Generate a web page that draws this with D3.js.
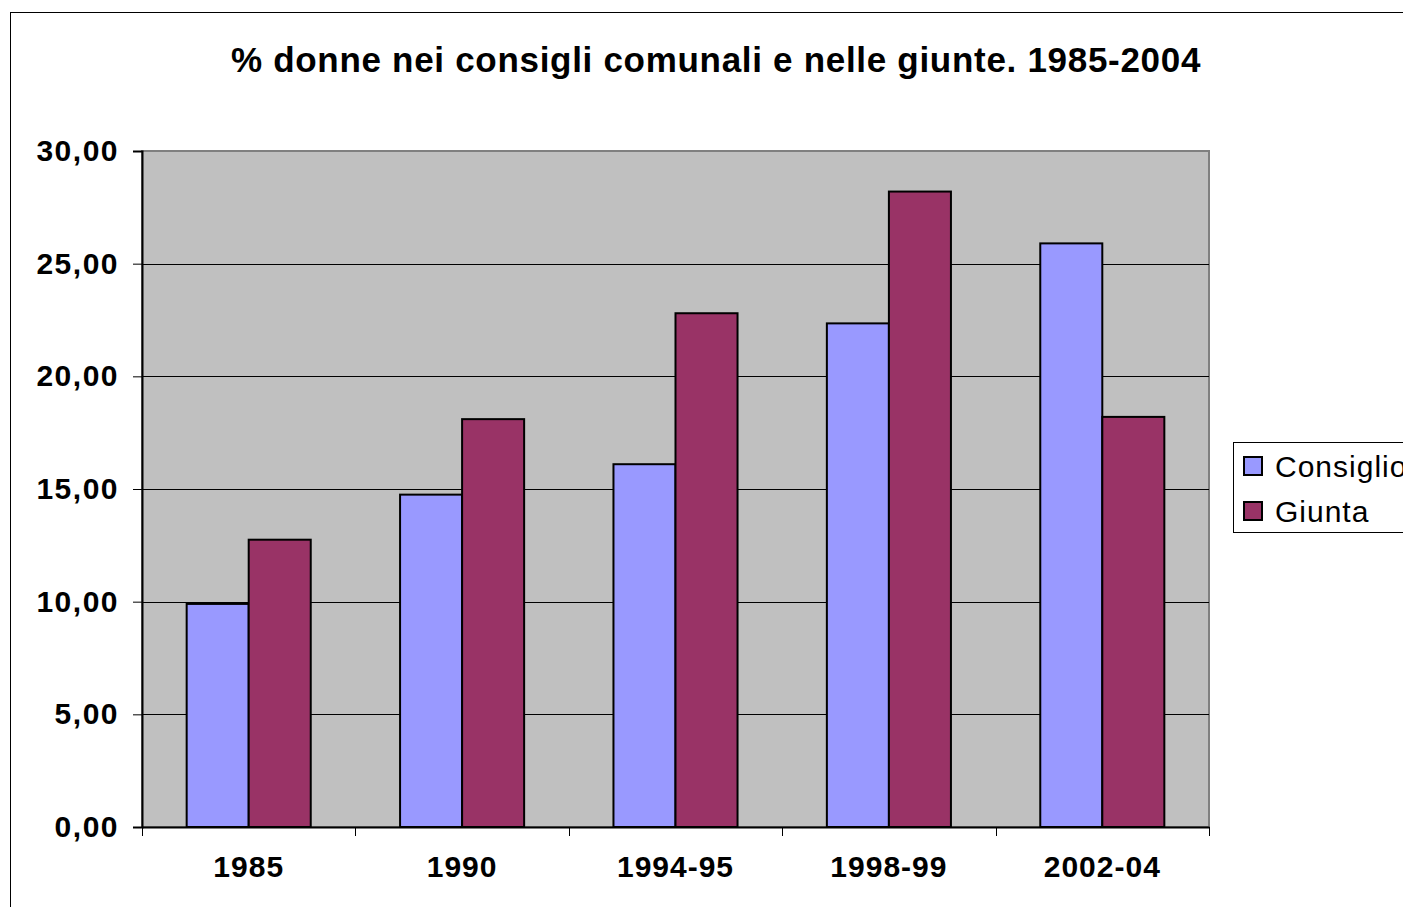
<!DOCTYPE html>
<html>
<head>
<meta charset="utf-8">
<script src="https://cdn.jsdelivr.net/npm/d3@7"></script>
<style>
  body { margin: 0; background: #fff; }
  svg { display: block; font-family: "Liberation Sans", Arial, sans-serif; }
</style>
</head>
<body>
<svg id="chart" width="1403" height="907"></svg>
<script>
// data
const categories = ["1985", "1990", "1994-95", "1998-99", "2002-04"];
const seriesNames = ["Consiglio", "Giunta"];
const consiglio = [9.9, 14.75, 16.1, 22.35, 25.9];
const giunta = [12.75, 18.1, 22.8, 28.2, 18.2];
const yTicks = [0, 5, 10, 15, 20, 25, 30];
const colors = ["#9999FF", "#993366"];

const values = [consiglio, giunta];
const svg = d3.select("#chart");

// chart frame (runs off the right/bottom edge like the original)
svg.append("rect")
  .attr("x", 10.5).attr("y", 12.5)
  .attr("width", 1500).attr("height", 1000)
  .attr("fill", "#fff").attr("stroke", "#000").attr("stroke-width", 1);

const plot = { left: 142, right: 1209, top: 151, bottom: 827 };

const y = d3.scaleLinear().domain([0, 30]).range([plot.bottom, plot.top]);
const x0 = d3.scaleBand().domain(categories).range([plot.left, plot.right]);
const x1 = d3.scaleBand().domain(seriesNames)
  .range([0, x0.bandwidth()]).paddingInner(0).paddingOuter(0.72);

// plot background
svg.append("rect")
  .attr("x", plot.left).attr("y", plot.top)
  .attr("width", plot.right - plot.left).attr("height", plot.bottom - plot.top)
  .attr("fill", "#C0C0C0").attr("stroke", "#808080").attr("stroke-width", 2);

// gridlines
svg.append("g").selectAll("line")
  .data(yTicks.filter(d => d > 0 && d < 30))
  .join("line")
  .attr("x1", plot.left).attr("x2", plot.right)
  .attr("y1", d => Math.round(y(d)) + 0.5).attr("y2", d => Math.round(y(d)) + 0.5)
  .attr("stroke", "#000").attr("stroke-width", 1);

// bars
const groups = svg.append("g").selectAll("g")
  .data(categories)
  .join("g")
  .attr("transform", d => `translate(${x0(d)},0)`);

groups.selectAll("rect")
  .data((d, i) => seriesNames.map((s, j) => ({ s, v: values[j][i], j })))
  .join("rect")
  .attr("x", d => x1(d.s))
  .attr("y", d => y(d.v))
  .attr("width", x1.bandwidth())
  .attr("height", d => plot.bottom - y(d.v))
  .attr("fill", d => colors[d.j])
  .attr("stroke", "#000").attr("stroke-width", 2);

// y axis
const yAxis = svg.append("g")
  .attr("transform", `translate(${plot.left},0)`)
  .call(d3.axisLeft(y).tickValues(yTicks).tickSize(9).tickPadding(14)
    .tickFormat(d => d3.format(".2f")(d).replace(".", ",")));
yAxis.select(".domain").attr("stroke", "#000").attr("stroke-width", 2);
yAxis.selectAll(".tick line").attr("stroke", "#000");
yAxis.selectAll("text")
  .attr("font-size", 30).attr("font-weight", "bold").attr("fill", "#000")
  .attr("letter-spacing", 1.5)
  .attr("font-family", "Liberation Sans, Arial, sans-serif");

// x axis
const xAxis = svg.append("g")
  .attr("transform", `translate(0,${plot.bottom})`)
  .call(d3.axisBottom(x0).tickSize(0).tickPadding(29));
xAxis.select(".domain").attr("stroke", "#000").attr("stroke-width", 2);
xAxis.selectAll("text")
  .attr("font-size", 30).attr("font-weight", "bold").attr("fill", "#000")
  .attr("letter-spacing", 1)
  .attr("font-family", "Liberation Sans, Arial, sans-serif");

// category boundary ticks
svg.append("g").selectAll("line")
  .data(categories.map(c => x0(c)).concat([plot.right]))
  .join("line")
  .attr("x1", d => Math.round(d) + 0.5).attr("x2", d => Math.round(d) + 0.5)
  .attr("y1", plot.bottom).attr("y2", plot.bottom + 9)
  .attr("stroke", "#000");

// title
svg.append("text")
  .attr("x", 716).attr("y", 72)
  .attr("text-anchor", "middle")
  .attr("font-size", 35).attr("font-weight", "bold")
  .attr("letter-spacing", 0.7)
  .text("% donne nei consigli comunali e nelle giunte. 1985-2004");

// legend
const legend = svg.append("g").attr("transform", "translate(1233,442)");
legend.append("rect")
  .attr("x", 0.5).attr("y", 0.5).attr("width", 300).attr("height", 90)
  .attr("fill", "#fff").attr("stroke", "#000");
seriesNames.forEach((s, i) => {
  legend.append("rect")
    .attr("x", 11).attr("y", 15 + i * 45).attr("width", 18).attr("height", 18)
    .attr("fill", colors[i]).attr("stroke", "#000").attr("stroke-width", 2);
  legend.append("text")
    .attr("x", 42).attr("y", 35 + i * 45)
    .attr("font-size", 30).attr("letter-spacing", 1)
    .text(s);
});
</script>
</body>
</html>
